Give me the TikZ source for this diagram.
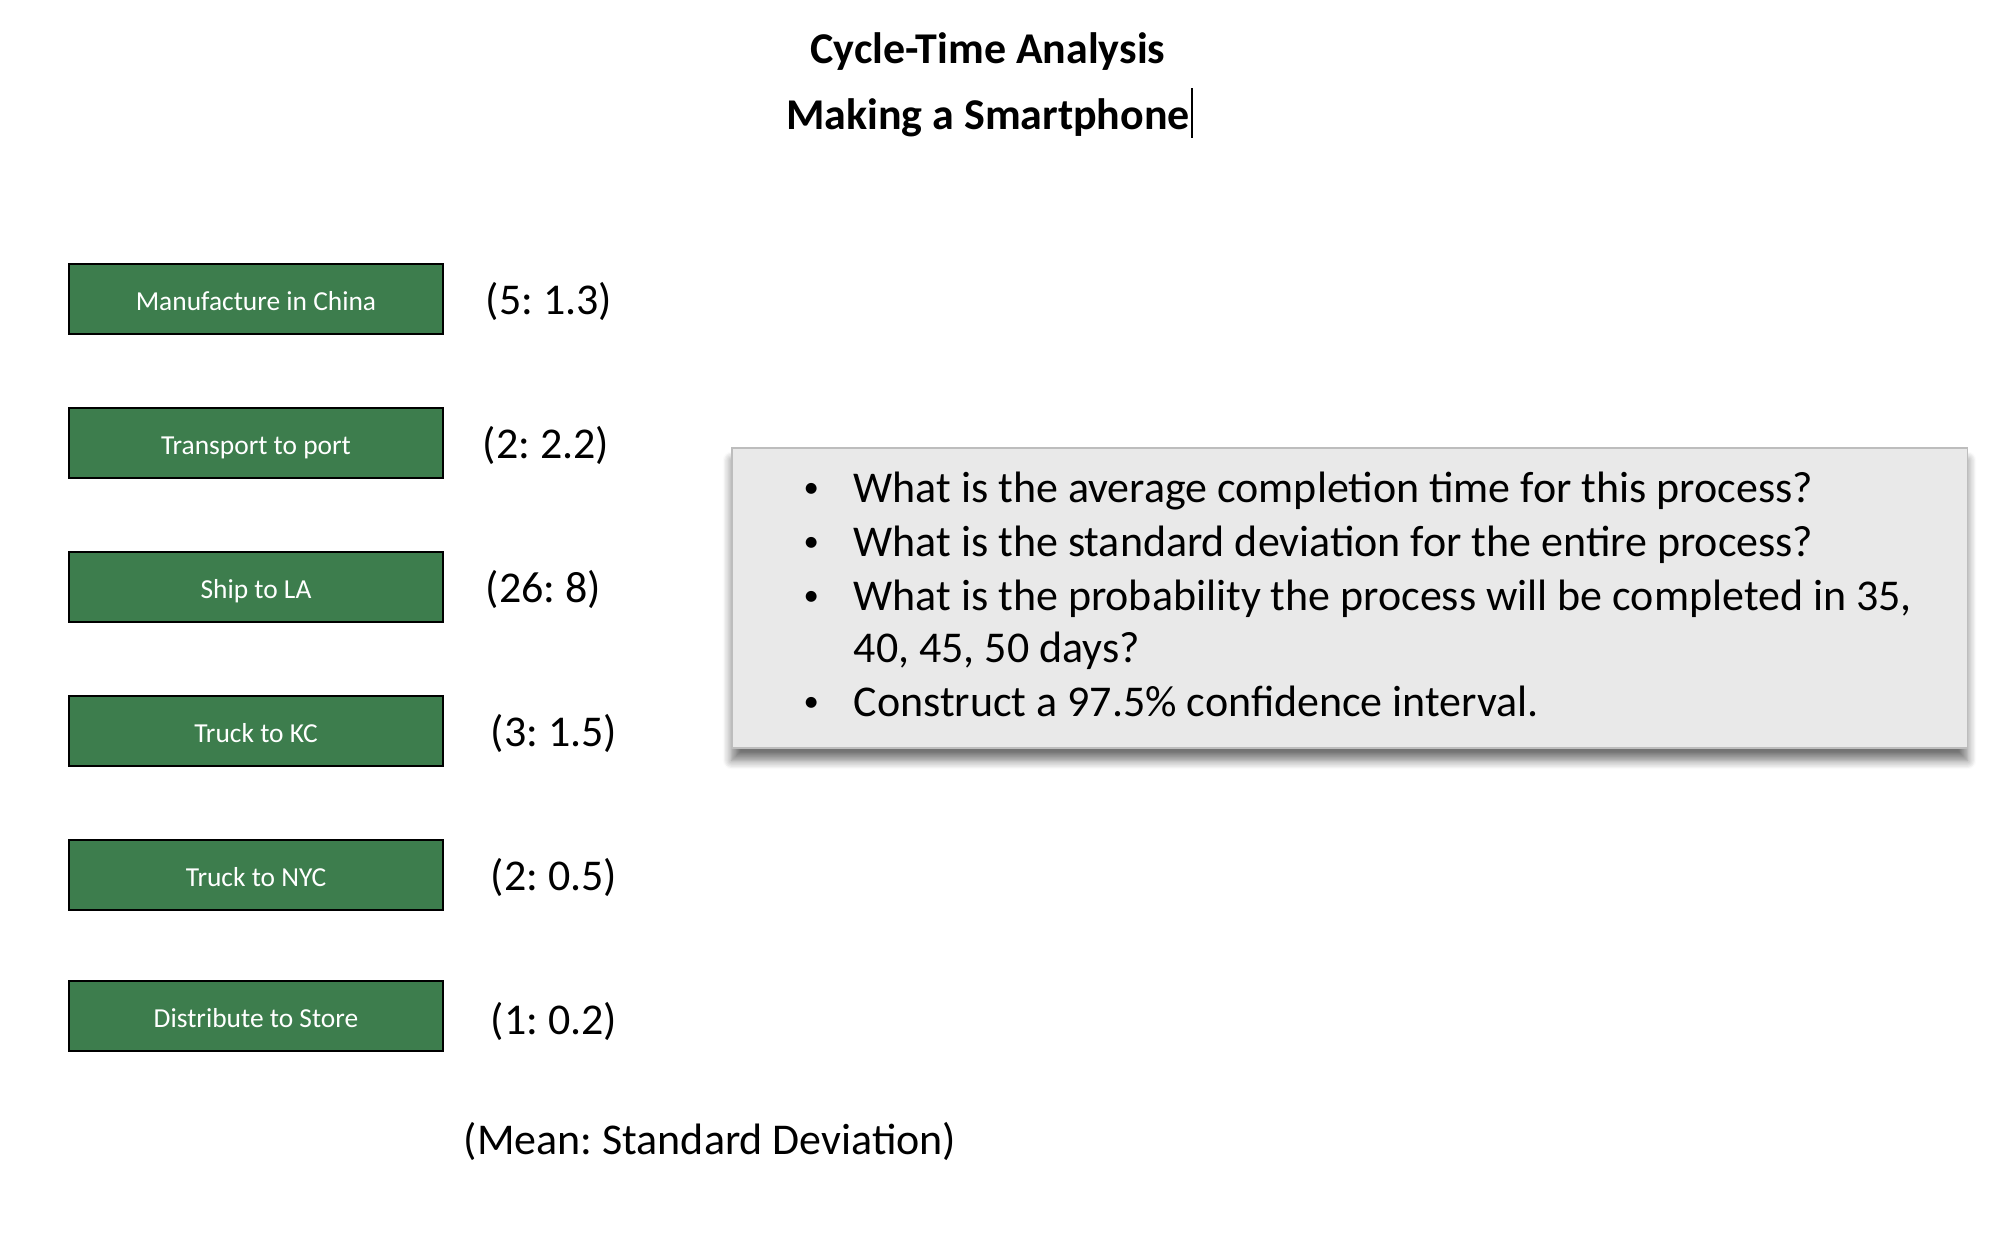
\documentclass[tikz,border=0pt]{standalone}
\usepackage{fontspec}
\setmainfont{Carlito}
\usepackage{xcolor}
\usetikzlibrary{shadows.blur}
\frenchspacing
\definecolor{boxgreen}{HTML}{3D7D4D}
\definecolor{qgrey}{HTML}{E9E9E9}
\definecolor{qedge}{HTML}{BDBDBD}
\tikzset{stage/.style = {draw = black, fill = boxgreen, line width = 0.7pt,
                         minimum width = 3.74cm, minimum height = 0.70cm,
                         inner sep = 0, text = white, text height = 0.65em, text depth = 0pt,
                         font = \fontsize{7.8}{9}\selectfont}}
\tikzset{est/.style = {anchor = west, inner sep = 0,
                       font = \fontsize{12.5}{15}\selectfont}}
\tikzset{qbox/.style = {draw = qedge, fill = qgrey, line width = 0.5pt,
                        minimum width = 12.35cm, minimum height = 3.00cm,
                        blur shadow = {shadow xshift = 0pt, shadow yshift = -3.5pt,
                                       shadow blur radius = 2.5pt,
                                       shadow blur steps = 8, shadow opacity = 55}}}
\newcommand{\qbullet}{\raisebox{1.3pt}{\scalebox{0.7}{\textbullet}}}

\begin{document}
\begin{tikzpicture}[x = 0.01cm, y = -0.01cm]
      \useasboundingbox (0, 0) rectangle (2006, 1232);

      % title
      \node [font = \fontsize{12.5}{15}\selectfont\bfseries] (title1) at (988, 52) {Cycle-Time Analysis};
      \node [font = \fontsize{12.5}{15}\selectfont\bfseries] (title2) at (988, 118) {Making a Smartphone};
      \draw [line width = 0.8pt] (1192, 88) -- (1192, 138);

      % stages
      \node [stage] (china) at (256, 299) {Manufacture in China};
      \node [stage] (port) at (256, 443) {Transport to port};
      \node [stage] (la) at (256, 587) {Ship to LA};
      \node [stage] (kc) at (256, 731) {Truck to KC};
      \node [stage] (nyc) at (256, 875) {Truck to NYC};
      \node [stage] (store) at (256, 1016) {Distribute to Store};

      \node [est] (tchina) at (485, 301) {(5: 1.3)};
      \node [est] (tport) at (482, 445) {(2: 2.2)};
      \node [est] (tla) at (485, 589) {(26: 8)};
      \node [est] (tkc) at (490, 733) {(3: 1.5)};
      \node [est] (tnyc) at (490, 877) {(2: 0.5)};
      \node [est] (tstore) at (490, 1021) {(1: 0.2)};

      \node [est, anchor = center] (legend) at (710, 1141) {(Mean: Standard Deviation)};

      % questions
      \node [qbox] (questions) at (1349.5, 598) {};
      \node [anchor = base west, inner sep = 0, font = \fontsize{12.5}{14.8}\selectfont] (qtext) at (803, 502)
        {\begin{tabular}[t]{@{}p{0.50cm}@{}l@{}}
           \qbullet & What is the average completion time for this process?\\[0.6pt]
           \qbullet & What is the standard deviation for the entire process?\\[0.6pt]
           \qbullet & What is the probability the process will be completed in 35,\\
                    & 40, 45, 50 days?\\[0.6pt]
           \qbullet & Construct a 97.5\% confidence interval.
         \end{tabular}};
    \end{tikzpicture}
\end{document}
